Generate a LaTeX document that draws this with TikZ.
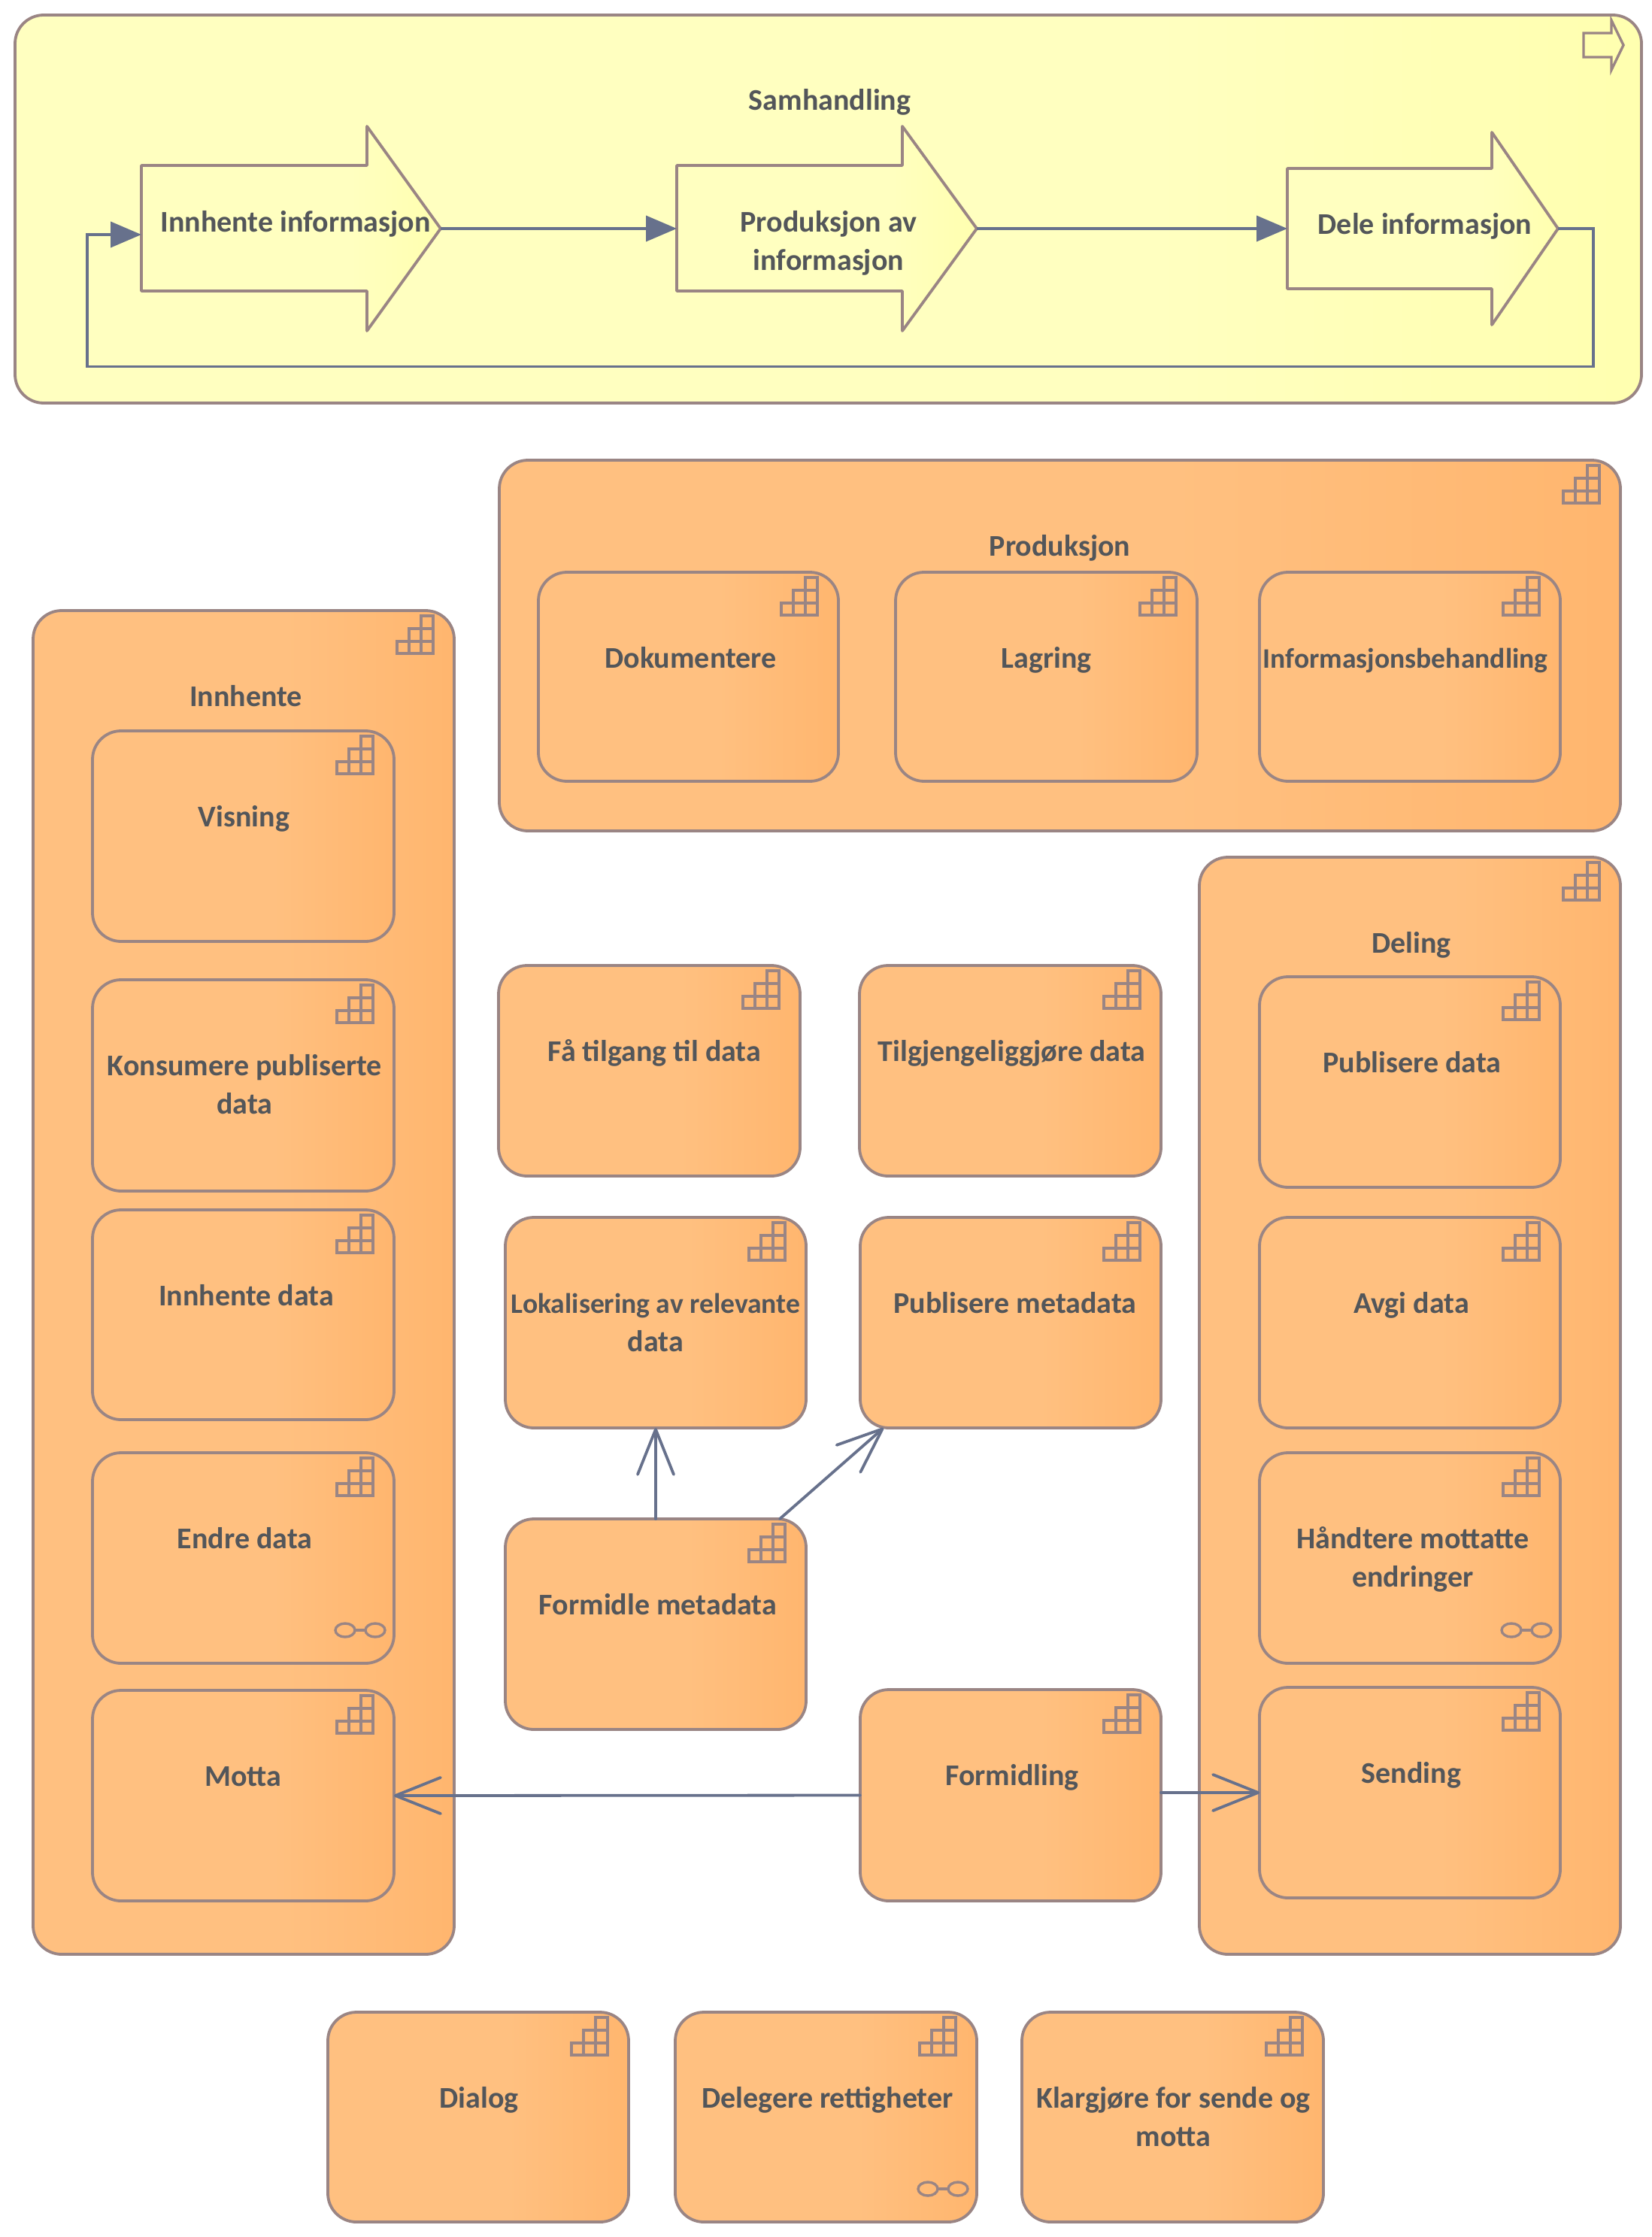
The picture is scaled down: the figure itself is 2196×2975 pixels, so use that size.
\documentclass[tikz,border=0pt]{standalone}
\usepackage{fontspec}
\setmainfont{Carlito}
\usetikzlibrary{arrows.meta,calc}
\definecolor{orgA}{HTML}{FFC080}
\definecolor{orgB}{HTML}{FFAD5F}
\definecolor{yelA}{HTML}{FFFFC0}
\definecolor{yelB}{HTML}{FFFF99}
\definecolor{edgec}{HTML}{9A8584}
\definecolor{linkc}{HTML}{67718C}
\definecolor{txtc}{HTML}{53565A}
\pgfdeclarehorizontalshading{orgsh}{100bp}{color(0bp)=(orgA); color(55bp)=(orgA); color(92bp)=(orgB); color(100bp)=(orgB)}
\pgfdeclarehorizontalshading{yelsh}{100bp}{color(0bp)=(yelA); color(60bp)=(yelA); color(95bp)=(yelB); color(100bp)=(yelB)}
\newcommand\narrowtext{\fontsize{18.8}{25.5}\selectfont}
\tikzset{
  boxst/.style={rectangle,rounded corners=19pt,draw=edgec,line width=1.9pt,shading=orgsh,inner sep=0pt,outer sep=0pt},
  yelst/.style={rectangle,rounded corners=19pt,draw=edgec,line width=1.9pt,shading=yelsh,inner sep=0pt,outer sep=0pt},
  arrowst/.style={draw=edgec,line width=1.9pt,shading=yelsh,line join=round},
  lbl/.style={anchor=north,align=center,inner sep=0pt,text=txtc,font=\fontsize{20}{25.5}\selectfont\bfseries},
  iconst/.style={draw=edgec,line width=1.7pt},
  flow/.style={draw=linkc,line width=1.9pt,-{Triangle[length=20.5pt,width=17pt]}},
  openl/.style={draw=linkc,line width=1.9pt,line cap=round,-{Straight Barb[length=30pt,width=24pt,round]}},
}
\newcommand\stairicon[1]{%
  \begin{scope}[shift={(#1.north east)}]
    \draw[iconst] (-76,57) rectangle (-28,41);
    \draw[iconst] (-60,41) rectangle (-28,24);
    \draw[iconst] (-44,24) rectangle (-28,7);
    \draw[iconst] (-60,57) -- (-60,41) (-44,57) -- (-44,24);
  \end{scope}}
\newcommand\linkicon[1]{%
  \begin{scope}[shift={(#1.south east)}]
    \draw[iconst] (-65,-44) ellipse [x radius=13,y radius=9];
    \draw[iconst] (-25,-44) ellipse [x radius=13,y radius=9];
    \draw[iconst] (-52,-44) -- (-38,-44);
  \end{scope}}
\newcommand\bx[7][0]{%
  \node[boxst,minimum width={(#4-#2)*0.5pt},minimum height={(#5-#3)*0.5pt}] (#7) at ({(#2+#4)/2},{(#3+#5)/2}) {};
  \stairicon{#7}
  \node[lbl] (#7-t) at ($(#7.north)+(#1,91)$) {\strut #6};
}
\begin{document}
\begin{tikzpicture}[x=0.5pt,y=-0.5pt]
\useasboundingbox (0,0) rectangle (2196,2975);
% Samhandling
\node[yelst,minimum width={2163*0.5pt},minimum height={516*0.5pt}] (sam) at (1101.5,278) {};
\node[lbl] (sam-t) at ($(sam.north)+(2,90)$) {\strut Samhandling};
\draw[iconst] (2106,44) -- (2143,44) -- (2143,27) -- (2159,60) -- (2143,93) -- (2143,76) -- (2106,76) -- cycle;
% process arrows
\path[arrowst] (188,220) -- (488,220) -- (488,168) -- (586,304) -- (488,440) -- (488,387) -- (188,387) -- cycle;
\path[arrowst] (900,220) -- (1200,220) -- (1200,168) -- (1299,304) -- (1200,440) -- (1200,387) -- (900,387) -- cycle;
\path[arrowst] (1712,224) -- (1984,224) -- (1984,176) -- (2072,304) -- (1984,432) -- (1984,384) -- (1712,384) -- cycle;
\coordinate (a1in) at (188,312);
\coordinate (a1out) at (586,304);
\coordinate (a2in) at (900,304);
\coordinate (a2out) at (1299,304);
\coordinate (a3in) at (1712,304);
\coordinate (a3out) at (2072,304);
\coordinate (loopa) at (2119,487.5);
\coordinate (loopb) at (116,487.5);
\node[lbl] (a1-t) at (393,272) {\strut Innhente informasjon};
\node[lbl] (a2-t) at (1102,272) {\strut Produksjon av\\informasjon};
\node[lbl] (a3-t) at (1895,275) {\strut Dele informasjon};
\draw[flow] (a1out) -- (a2in);
\draw[flow] (a2out) -- (a3in);
\draw[flow] (a3out) -| (loopa) -- (loopb) |- (a1in);
% Frames
\bx{664}{612}{2155}{1105}{Produksjon}{prod}
\bx[3]{44}{812}{604}{2599}{Innhente}{innh}
\bx[2]{1595}{1140}{2155}{2599}{Deling}{del}
% Produksjon
\bx[3]{716}{761}{1115}{1039}{Dokumentere}{dok}
\bx{1191}{761}{1592}{1039}{Lagring}{lag}
\bx[-6]{1675}{761}{2075}{1039}{\narrowtext Informasjonsbehandling}{ibh}
% Innhente
\bx[1]{123}{972}{524}{1252}{Visning}{vis}
\bx[2]{123}{1303}{524}{1584}{Konsumere publiserte\\data}{kon}
\bx[4]{123}{1609}{524}{1888}{Innhente data}{ind}
\bx[2]{123}{1932}{524}{2212}{Endre data}{end}
\linkicon{end}
\bx{123}{2248}{524}{2528}{Motta}{mot}
% Middle
\bx[7]{663}{1284}{1064}{1564}{Få tilgang til data}{fat}
\bx[2]{1143}{1284}{1544}{1564}{Tilgjengeliggjøre data}{til}
\bx{672}{1619}{1072}{1899}{\narrowtext Lokalisering av relevante\\data}{lok}
\bx[6]{1144}{1619}{1544}{1899}{Publisere metadata}{pum}
\bx[3]{672}{2020}{1072}{2300}{Formidle metadata}{fom}
\bx[2]{1144}{2247}{1544}{2528}{Formidling}{fol}
% Deling
\bx[3]{1675}{1299}{2075}{1579}{Publisere data}{pud}
\bx[2]{1675}{1619}{2075}{1899}{Avgi data}{avg}
\bx[4]{1675}{1932}{2075}{2212}{Håndtere mottatte\\endringer}{han}
\linkicon{han}
\bx[2]{1675}{2244}{2075}{2524}{Sending}{sen}
% Bottom row
\bx[1]{436}{2676}{836}{2955}{Dialog}{dia}
\bx[2]{898}{2676}{1299}{2955}{Delegere rettigheter}{dlg}
\linkicon{dlg}
\bx[1]{1359}{2676}{1760}{2955}{Klargjøre for sende og\\motta}{kla}
% Connectors
\draw[openl] (fom.north) -- (lok.south);
\draw[openl] ($(fom.north east)+(-35,0)$) -- ($(pum.south west)+(31,0)$);
\draw[openl] (fol.west) -- (mot.east);
\draw[openl] (sen.west -| fol.east) -- (sen.west);
\end{tikzpicture}
\end{document}
